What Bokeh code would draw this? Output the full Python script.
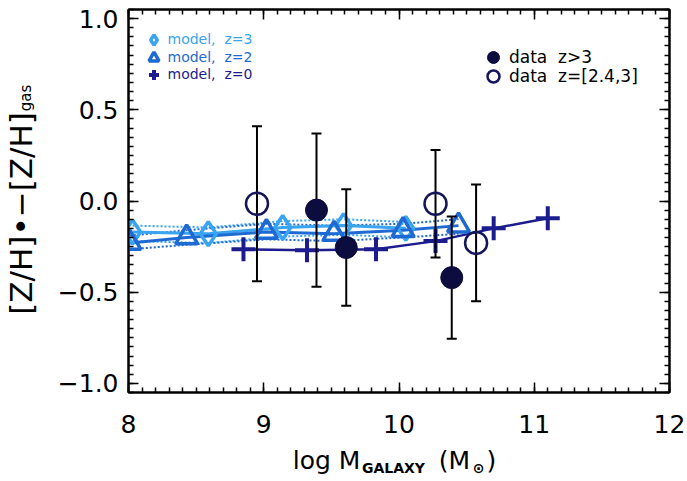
from bokeh.plotting import figure
from bokeh.models import (Legend, LegendItem, LinearAxis, SingleIntervalTicker, FixedTicker,
                          CustomJSTickFormatter, AllLabels)
from bokeh.embed import file_html
from bokeh.resources import INLINE

# ---------------- data ----------------
# model, z=0 (plus)
z0_mass = [8.85, 9.32, 9.83, 10.27, 10.70, 11.10]
z0_dz = [-0.265, -0.27, -0.265, -0.22, -0.15, -0.095]
# model, z=2 (triangles)
z2_mass = [8.01, 8.43, 9.02, 9.52, 10.03, 10.44]
z2_dz = [-0.23, -0.20, -0.17, -0.18, -0.16, -0.135]
z2_hi = [-0.19, -0.16, -0.125, -0.135, -0.125, -0.10]
z2_lo = [-0.265, -0.24, -0.21, -0.22, -0.20, -0.18]
# model, z=3 (diamonds)
z3_mass = [8.03, 8.59, 9.14, 9.59, 10.05]
z3_dz = [-0.17, -0.18, -0.145, -0.135, -0.15]
z3_hi = [-0.135, -0.145, -0.11, -0.10, -0.115]
z3_lo = [-0.22, -0.23, -0.195, -0.185, -0.20]
# data z>3 (filled)
hz_mass = [9.39, 9.61, 10.39]
hz_dz = [-0.05, -0.255, -0.42]
hz_err = [0.42, 0.32, 0.335]
# data z=[2.4,3] (open)
mz_mass = [8.95, 10.27, 10.57]
mz_dz = [-0.015, -0.015, -0.23]
mz_err = [0.425, 0.295, 0.32]

y_ticks = [-1.0, -0.5, 0.0, 0.5, 1.0]
y_tick_labels = ["\u22121.0", "\u22120.5", "0.0", "0.5", "1.0"]

x_title_big = ["log M", "(M", ")"]
x_title_sub = ["GALAXY", "\u2299"]
y_title_big = "[Z/H]\u2022\u2212[Z/H]"
y_title_sub = "gas"

LIGHT = "#38a4f2"
MED = "#1f6ad2"
NAVY = "#1c1c8e"
DARK = "#0c0c3e"

# ---------------- figure ----------------
FL, FR, FT, FB = 128, 669, 9, 392
X0, X1, Y0, Y1 = 8.0, 12.0, -1.05, 1.05
p = figure(width=687, height=481, x_range=(X0, X1), y_range=(Y0, Y1),
           output_backend="svg", toolbar_location=None,
           min_border_left=FL, min_border_right=687 - FR,
           min_border_top=FT, min_border_bottom=481 - FB)
p.grid.visible = False
p.outline_line_color = "black"
p.outline_line_width = 2
p.background_fill_color = "white"
p.border_fill_color = "white"

def sx(px):
    return round(X0 + (px - FL) * (X1 - X0) / (FR - FL), 4)

def sy(py):
    return round(Y1 - (py - FT) * (Y1 - Y0) / (FB - FT), 4)

blank = CustomJSTickFormatter(code="return ''")

def style_axis(ax, labels=True):
    ax.axis_line_color = "black"
    ax.axis_line_width = 2
    ax.major_tick_in = 10
    ax.major_tick_out = 0
    ax.minor_tick_in = 5
    ax.minor_tick_out = 0
    ax.major_tick_line_width = 1.5
    ax.minor_tick_line_width = 1.5
    ax.major_tick_line_color = "black"
    ax.minor_tick_line_color = "black"
    if labels:
        ax.major_label_text_font = "DejaVu Sans"
        ax.major_label_text_font_size = "25px"
        ax.major_label_text_color = "black"
    else:
        ax.formatter = blank
        ax.major_label_standoff = 0

p.xaxis.ticker = SingleIntervalTicker(interval=1, num_minor_ticks=10)
p.yaxis.ticker = SingleIntervalTicker(interval=0.5, num_minor_ticks=10)
style_axis(p.xaxis[0])
style_axis(p.yaxis[0])
p.xaxis.major_label_standoff = 22
p.yaxis.major_label_standoff = 10
p.yaxis.major_label_overrides = {t: l for t, l in zip(y_ticks, y_tick_labels)}

top_ax = LinearAxis(ticker=SingleIntervalTicker(interval=1, num_minor_ticks=10))
right_ax = LinearAxis(ticker=SingleIntervalTicker(interval=0.5, num_minor_ticks=10))
style_axis(top_ax, labels=False)
style_axis(right_ax, labels=False)
p.add_layout(top_ax, "above")
p.add_layout(right_ax, "right")

# ---------------- axis titles (label-only axes, so they stay real text) ----------------
def title_axis(positions, texts, size, standoff, bold=False, vertical=False):
    ax = LinearAxis(ticker=FixedTicker(ticks=positions, minor_ticks=[]),
                    major_label_overrides=dict(zip(positions, texts)),
                    major_label_policy=AllLabels())
    ax.axis_line_color = None
    ax.major_tick_line_color = None
    ax.minor_tick_line_color = None
    ax.major_tick_in = 0
    ax.major_tick_out = 0
    ax.major_label_standoff = standoff
    ax.major_label_text_font = "DejaVu Sans"
    ax.major_label_text_font_size = size
    ax.major_label_text_color = "black"
    ax.major_label_text_font_style = "bold" if bold else "normal"
    if vertical:
        ax.major_label_orientation = "vertical"
    return ax

# below: subscripts first, then the large pieces pulled back up over them
p.add_layout(title_axis([sx(393), sx(478)], x_title_sub, "14px", 24, bold=True), "below")
p.add_layout(title_axis([sx(326), sx(454), sx(491)], x_title_big, "25px", -33), "below")
p.add_layout(title_axis([sy(97.5)], [y_title_sub], "15px", 19, vertical=True), "left")
p.add_layout(title_axis([sy(213)], [y_title_big], "31px", -25, vertical=True), "left")

# ---------------- models ----------------
for lo, hi, xs, col in [(z3_lo, z3_hi, z3_mass, LIGHT), (z2_lo, z2_hi, z2_mass, MED)]:
    p.line(xs, hi, line_color=col, line_width=2, line_dash="2 2")
    p.line(xs, lo, line_color=col, line_width=2, line_dash="2 2")

p.line(z3_mass, z3_dz, line_color=LIGHT, line_width=3)
p.line(z2_mass, z2_dz, line_color=MED, line_width=3)
p.line(z0_mass, z0_dz, line_color=NAVY, line_width=2.5)

r_z3 = p.scatter(z3_mass, z3_dz, marker="diamond", size=24, fill_color=None,
                 line_color=LIGHT, line_width=3.5)
r_z2 = p.scatter(z2_mass, z2_dz, marker="triangle", size=22, fill_color=None,
                 line_color=MED, line_width=3.5)
r_z0 = p.scatter(z0_mass, z0_dz, marker="cross", size=24, line_color=NAVY, line_width=4)

# ---------------- data with error bars ----------------
all_m = hz_mass + mz_mass
all_lo = [y - e for y, e in zip(hz_dz, hz_err)] + [y - e for y, e in zip(mz_dz, mz_err)]
all_hi = [y + e for y, e in zip(hz_dz, hz_err)] + [y + e for y, e in zip(mz_dz, mz_err)]
p.segment(all_m, all_lo, all_m, all_hi, line_color="black", line_width=2)
p.scatter(all_m, all_lo, marker="dash", size=10, line_color="black", line_width=2)
p.scatter(all_m, all_hi, marker="dash", size=10, line_color="black", line_width=2)

r_hz = p.scatter(hz_mass, hz_dz, marker="circle", size=22, fill_color=DARK,
                 line_color=DARK, line_width=1)
r_mz = p.scatter(mz_mass, mz_dz, marker="circle", size=22, fill_color=None,
                 line_color="#15155a", line_width=2.5)

# ---------------- legends ----------------
def add_legend(label, rend, color, cx, cy, glyph, fsize, standoff):
    leg = Legend(items=[LegendItem(label=label, renderers=[rend])],
                 location=(cx - glyph / 2 - FL, FB - (cy + glyph / 2)),
                 glyph_width=glyph, glyph_height=glyph, label_height=glyph,
                 label_standoff=standoff, padding=0, margin=0,
                 border_line_alpha=0, background_fill_alpha=0,
                 label_text_color=color, label_text_font="DejaVu Sans",
                 label_text_font_size=fsize)
    p.add_layout(leg, "center")

add_legend("model,  z=3", r_z3, LIGHT, 153, 39, 25, "14px", 2)
add_legend("model,  z=2", r_z2, MED, 153, 57, 25, "14px", 2)
add_legend("model,  z=0", r_z0, NAVY, 153, 74, 25, "14px", 2)
add_legend("data  z>3", r_hz, "black", 493, 57, 30, "17px", 1)
add_legend("data  z=[2.4,3]", r_mz, "black", 493, 76, 30, "17px", 1)

open("out.html", "w").write(file_html(p, INLINE))
